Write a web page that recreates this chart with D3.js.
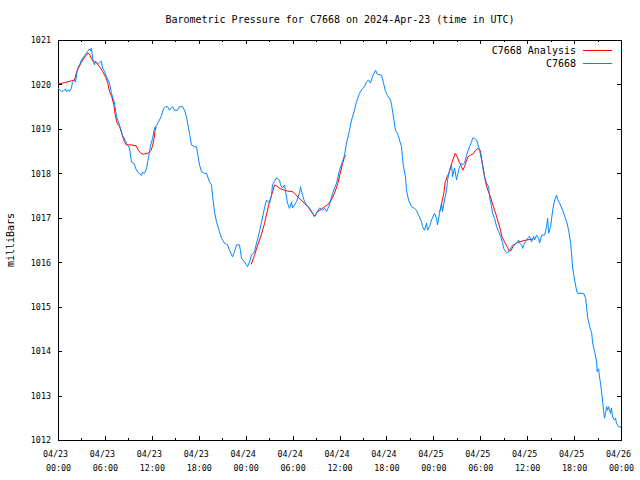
<!DOCTYPE html>
<html>
<head>
<meta charset="utf-8">
<script src="https://cdn.jsdelivr.net/npm/d3@7"></script>
<style>
  html, body { margin: 0; padding: 0; background: #fff; }
  svg { display: block; }
  text { font-family: "DejaVu Sans Mono", "Liberation Mono", monospace; fill: #000; }
</style>
</head>
<body>
<svg id="chart" width="640" height="480"></svg>
<script>
// ---------------- data ----------------
const titleText = "Barometric Pressure for C7668 on 2024-Apr-23 (time in UTC)";
const yLabelText = "milliBars";
const seriesNames = ["C7668 Analysis", "C7668"];
const startUTC = Date.UTC(2024, 3, 23, 0, 0);   // 2024-04-23 00:00 UTC
const endUTC = Date.UTC(2024, 3, 26, 0, 0);     // 2024-04-26 00:00 UTC
const yTicks = [1012, 1013, 1014, 1015, 1016, 1017, 1018, 1019, 1020, 1021];

// observed station pressure (hours since start, mb)
const obsHours = [0,0.19,0.45,0.70,0.96,1.09,1.34,1.47,1.73,1.85,2.11,2.24,2.37,2.49,2.75,3.01,3.39,3.64,3.77,4.03,4.16,4.28,4.41,4.54,4.67,4.80,4.92,5.18,5.31,5.56,5.69,5.95,6.20,6.59,6.84,7.23,7.48,7.86,8.25,8.76,9.14,9.40,9.78,9.91,10.17,10.42,10.68,10.81,11.06,11.32,11.57,11.83,12.09,12.34,12.60,12.98,13.24,13.49,13.75,14.00,14.26,14.64,14.90,15.28,15.54,15.92,16.18,16.43,16.82,17.07,17.46,17.71,17.84,18.10,18.35,18.74,18.99,19.37,19.63,19.76,20.01,20.27,20.65,20.91,21.29,21.68,21.93,22.32,22.57,22.83,23.21,23.47,23.85,24.11,24.23,24.49,24.75,25.13,25.39,25.77,26.03,26.41,26.67,27.05,27.31,27.43,27.69,27.95,28.33,28.46,28.71,28.97,29.22,29.35,29.61,29.87,29.99,30.25,30.50,30.89,31.01,31.27,31.53,31.78,32.16,32.55,32.80,33.06,33.44,33.83,34.08,34.34,34.72,34.98,35.36,35.62,36.00,36.38,36.64,36.90,37.28,37.54,37.92,38.17,38.56,38.94,39.20,39.45,39.71,39.97,40.22,40.61,40.86,41.37,41.63,41.88,42.14,42.52,42.65,42.91,43.16,43.42,43.67,43.93,44.06,44.19,44.44,44.57,44.83,45.21,45.59,45.85,46.11,46.49,46.62,46.87,47.13,47.26,47.51,47.77,48.15,48.41,48.54,48.79,49.05,49.18,49.43,49.69,49.82,50.07,50.33,50.46,50.71,50.97,51.10,51.35,51.61,51.74,51.99,52.25,52.63,52.89,53.02,53.27,53.53,53.66,53.91,54.17,54.30,54.55,54.81,55.07,55.19,55.45,55.58,55.83,56.09,56.35,56.60,56.86,56.99,57.24,57.50,57.75,58.01,58.14,58.39,58.78,58.91,59.03,59.29,59.42,59.67,59.93,60.06,60.31,60.57,60.83,60.95,61.21,61.47,61.59,61.85,62.23,62.49,62.62,62.74,63.00,63.26,63.51,63.77,63.90,64.15,64.54,65.05,65.30,65.56,65.69,65.82,66.07,66.33,66.46,67.22,67.48,67.61,67.73,67.99,68.25,68.37,68.63,68.89,68.95,69.01,69.14,69.25,69.38,69.51,69.64,69.76,69.89,70.02,70.15,70.27,70.40,70.66,70.78,70.91,71.17,71.30,71.42,71.68,72.0];
const obsPressure = [1019.92,1019.88,1019.84,1019.86,1019.90,1019.84,1019.88,1019.84,1019.92,1020.05,1020.10,1020.05,1020.20,1020.35,1020.44,1020.55,1020.65,1020.70,1020.74,1020.80,1020.75,1020.82,1020.62,1020.50,1020.44,1020.52,1020.50,1020.47,1020.49,1020.52,1020.37,1020.29,1020.17,1020.03,1019.80,1019.58,1019.27,1019.09,1018.86,1018.68,1018.57,1018.25,1018.21,1018.12,1018.03,1018.00,1017.95,1018.02,1018.00,1018.10,1018.35,1018.62,1018.78,1019.02,1019.08,1019.20,1019.30,1019.45,1019.50,1019.50,1019.42,1019.50,1019.42,1019.42,1019.50,1019.50,1019.42,1019.27,1018.90,1018.64,1018.60,1018.60,1018.46,1018.19,1018.04,1018.00,1018.00,1017.81,1017.74,1017.51,1017.14,1016.91,1016.69,1016.54,1016.43,1016.39,1016.27,1016.12,1016.24,1016.39,1016.39,1016.09,1016.01,1015.94,1015.90,1016.00,1016.16,1016.24,1016.43,1016.69,1016.91,1017.22,1017.40,1017.33,1017.51,1017.74,1017.82,1017.90,1017.85,1017.74,1017.67,1017.74,1017.47,1017.33,1017.21,1017.36,1017.22,1017.29,1017.36,1017.56,1017.70,1017.51,1017.36,1017.29,1017.22,1017.11,1017.02,1017.10,1017.22,1017.17,1017.22,1017.14,1017.29,1017.47,1017.67,1017.78,1018.07,1018.26,1018.41,1018.68,1018.97,1019.20,1019.42,1019.61,1019.80,1019.91,1019.95,1020.06,1020.10,1020.03,1020.18,1020.32,1020.23,1020.21,1020.03,1019.85,1019.75,1019.65,1019.55,1019.25,1018.97,1018.90,1018.75,1018.60,1018.34,1018.15,1017.92,1017.62,1017.40,1017.25,1017.21,1017.17,1017.06,1016.91,1016.80,1016.72,1016.88,1016.72,1016.80,1016.95,1017.10,1016.99,1016.84,1017.10,1017.33,1017.14,1017.40,1017.62,1017.85,1018.07,1018.19,1017.92,1018.12,1017.85,1017.96,1018.15,1018.23,1018.19,1018.23,1018.41,1018.60,1018.71,1018.79,1018.79,1018.75,1018.68,1018.52,1018.30,1018.15,1017.92,1017.78,1017.70,1017.47,1017.25,1017.10,1016.99,1016.80,1016.69,1016.58,1016.43,1016.31,1016.24,1016.21,1016.27,1016.35,1016.39,1016.39,1016.46,1016.50,1016.43,1016.39,1016.31,1016.43,1016.50,1016.54,1016.58,1016.46,1016.58,1016.50,1016.61,1016.54,1016.43,1016.61,1016.61,1016.80,1016.99,1016.65,1016.80,1017.17,1017.40,1017.51,1017.40,1017.33,1017.17,1016.91,1016.72,1016.43,1016.16,1015.87,1015.60,1015.35,1015.30,1015.30,1015.19,1014.97,1014.77,1014.55,1014.41,1014.18,1013.99,1013.76,1013.54,1013.58,1013.60,1013.42,1013.28,1013.09,1012.90,1012.67,1012.49,1012.60,1012.75,1012.67,1012.75,1012.60,1012.72,1012.52,1012.45,1012.49,1012.38,1012.30,1012.29];

// analysis pressure (hours since start, mb); null marks a gap between runs
const anaHours = [0,0.83,1.69,2.11,2.33,2.62,2.97,3.30,3.61,3.81,4.03,4.25,4.45,4.89,5.31,5.73,6.16,6.37,6.59,6.88,7.14,7.32,7.57,7.87,8.08,8.29,8.50,8.72,9.36,10.00,10.21,10.55,10.85,11.48,11.92,12.12,12.25,12.43,12.56,
  null,
  24.71,25.13,25.55,25.99,26.41,26.70,27.05,27.39,27.69,28.11,28.33,28.97,29.39,29.95,30.25,30.67,31.10,31.53,31.95,32.38,32.80,33.23,33.66,34.08,34.50,34.94,35.36,35.78,36.09,36.35,36.64,36.86,
  null,
  48.70,48.92,49.08,49.34,49.52,49.77,50.07,50.29,50.49,50.80,51.05,51.35,51.57,51.77,51.99,52.20,52.41,52.75,53.05,53.36,53.69,54.00,54.20,54.46,54.67,54.97,55.31,55.61,55.83,56.04,56.34,56.59,56.76,57.10,57.45,57.75,57.97,58.17,58.60,59.02,59.44,59.88,60.72];
const anaPressure = [1020.01,1020.04,1020.08,1020.10,1020.25,1020.37,1020.49,1020.59,1020.66,1020.71,1020.68,1020.59,1020.53,1020.49,1020.40,1020.29,1020.14,1020.03,1019.84,1019.72,1019.54,1019.31,1019.13,1019.05,1018.94,1018.82,1018.71,1018.64,1018.64,1018.62,1018.54,1018.46,1018.43,1018.45,1018.52,1018.64,1018.75,1018.97,1019.05,
  null,
  1015.95,1016.16,1016.39,1016.61,1016.87,1017.10,1017.36,1017.55,1017.74,1017.70,1017.66,1017.62,1017.60,1017.59,1017.55,1017.47,1017.40,1017.32,1017.25,1017.14,1017.04,1017.14,1017.19,1017.25,1017.29,1017.40,1017.55,1017.77,1018.00,1018.19,1018.37,1018.41,
  null,
  1017.14,1017.17,1017.33,1017.55,1017.81,1017.92,1018.04,1018.19,1018.30,1018.45,1018.37,1018.24,1018.16,1018.07,1018.15,1018.26,1018.37,1018.41,1018.43,1018.51,1018.56,1018.52,1018.30,1018.04,1017.81,1017.62,1017.47,1017.29,1017.17,1017.06,1016.88,1016.72,1016.58,1016.46,1016.35,1016.25,1016.27,1016.35,1016.43,1016.46,1016.48,1016.50,1016.52];

const seriesColors = ["#ff0000", "#0088ff"];

// ---------------- chart ----------------
const W = 640, H = 480;
const m = { left: 58, right: 19, top: 40, bottom: 40 };
const svg = d3.select("#chart");

const toDate = h => new Date(startUTC + h * 3600e3);
const x = d3.scaleUtc().domain([new Date(startUTC), new Date(endUTC)]).range([m.left, W - m.right]);
const y = d3.scaleLinear().domain([1012, 1021]).range([H - m.bottom, m.top]);

const obs = obsHours.map((h, i) => ({ t: toDate(h), v: obsPressure[i] }));
const ana = anaHours.map((h, i) => (h === null ? { t: null, v: null } : { t: toDate(h), v: anaPressure[i] }));

// title
svg.append("text").attr("x", (m.left + W - m.right) / 2 + 0.5).attr("y", 23)
  .attr("text-anchor", "middle").attr("font-size", 10).text(titleText);

// y label
svg.append("text").attr("transform", `translate(14,${(m.top + H - m.bottom) / 2}) rotate(-90)`)
  .attr("text-anchor", "middle").attr("font-size", 10).text(yLabelText);

const majorHours = d3.utcHour.every(6);
const minorHours = d3.utcHour.every(3);

// minor ticks bottom/top
svg.append("g").attr("transform", `translate(0,${H - m.bottom})`)
  .call(d3.axisBottom(x).ticks(minorHours).tickSize(-2).tickFormat(""))
  .call(g => g.select(".domain").remove());
svg.append("g").attr("transform", `translate(0,${m.top})`)
  .call(d3.axisTop(x).ticks(minorHours).tickSize(-2).tickFormat(""))
  .call(g => g.select(".domain").remove());

// major ticks bottom with two-line labels
const fmtDate = d3.utcFormat("%m/%d"), fmtTime = d3.utcFormat("%H:%M");
const xb = svg.append("g").attr("transform", `translate(0,${H - m.bottom})`)
  .call(d3.axisBottom(x).ticks(majorHours).tickSize(-4).tickFormat(""));
xb.select(".domain").remove();
xb.selectAll(".tick").each(function (d) {
  const t = d3.select(this).append("text").attr("text-anchor", "middle")
    .attr("font-size", 8.4).attr("dx", -3);
  t.append("tspan").attr("x", 0).attr("y", 17).text(fmtDate(d));
  t.append("tspan").attr("x", 0).attr("y", 31).text(fmtTime(d));
});
svg.append("g").attr("transform", `translate(0,${m.top})`)
  .call(d3.axisTop(x).ticks(majorHours).tickSize(-4).tickFormat(""))
  .call(g => g.select(".domain").remove());

// y ticks left/right
const yl = svg.append("g").attr("transform", `translate(${m.left},0)`)
  .call(d3.axisLeft(y).tickValues(yTicks).tickSize(-4).tickPadding(7).tickFormat(d3.format("d")));
yl.select(".domain").remove();
yl.selectAll("text").attr("font-size", 8.4).attr("font-family", "DejaVu Sans Mono").attr("dy", "0.33em");
svg.append("g").attr("transform", `translate(${W - m.right},0)`)
  .call(d3.axisRight(y).tickValues(yTicks).tickSize(-4).tickFormat(""))
  .call(g => g.select(".domain").remove());

svg.selectAll(".tick line").attr("stroke", "#000").attr("shape-rendering", "crispEdges");
svg.selectAll(".tick text").attr("fill", "#000");

// frame
svg.append("rect").attr("x", m.left + 0.5).attr("y", m.top + 0.5)
  .attr("width", W - m.left - m.right).attr("height", H - m.top - m.bottom)
  .attr("fill", "none").attr("stroke", "#000").attr("shape-rendering", "crispEdges");

// lines
const line = d3.line().defined(d => d.t !== null).x(d => x(d.t)).y(d => y(d.v));
svg.append("path").datum(ana).attr("d", line).attr("fill", "none")
  .attr("stroke", seriesColors[0]).attr("stroke-width", 1);
svg.append("path").datum(obs).attr("d", line).attr("fill", "none")
  .attr("stroke", seriesColors[1]).attr("stroke-width", 1);

// legend
const legend = svg.append("g");
seriesNames.forEach((name, i) => {
  const ly = 50 + i * 13;
  legend.append("text").attr("x", 576).attr("y", ly + 3.5).attr("text-anchor", "end")
    .attr("font-size", 10).text(name);
  legend.append("line").attr("x1", 583).attr("x2", 612).attr("y1", ly + 0.5).attr("y2", ly + 0.5)
    .attr("stroke", seriesColors[i]).attr("stroke-width", 1).attr("shape-rendering", "crispEdges");
});
</script>
</body>
</html>
